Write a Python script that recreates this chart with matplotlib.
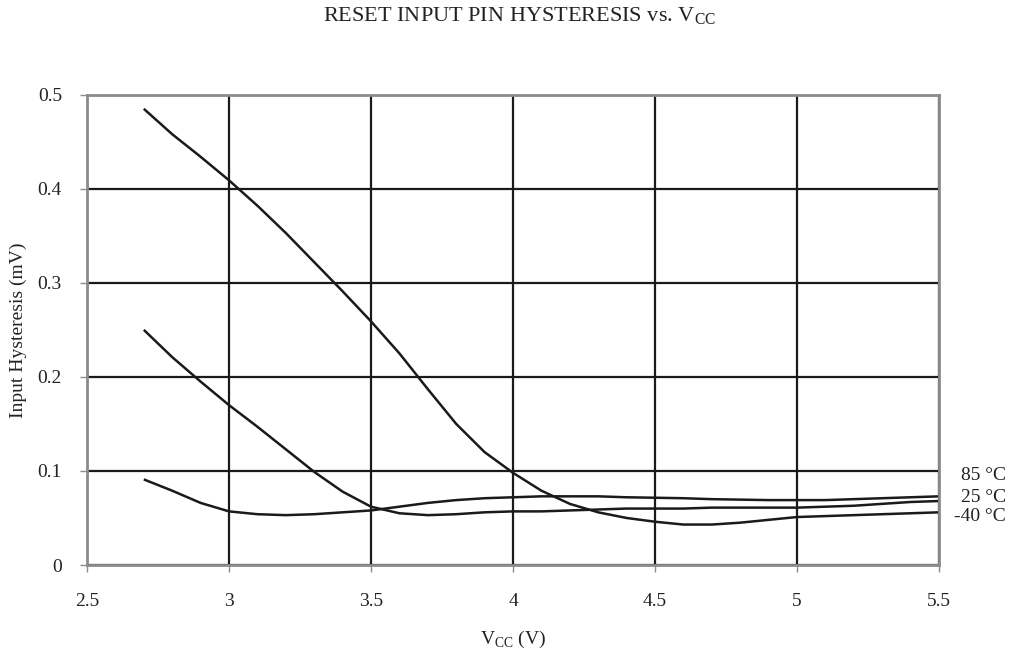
import matplotlib
matplotlib.use("Agg")
import matplotlib.pyplot as plt

plt.rcParams['font.family'] = ['Liberation Serif', 'DejaVu Serif']
plt.rcParams['mathtext.fontset'] = 'custom'
plt.rcParams['mathtext.rm'] = 'Liberation Serif'

vcc = [2.7, 2.8, 2.9, 3.0, 3.1, 3.2, 3.3, 3.4, 3.5, 3.6, 3.7, 3.8, 3.9, 4.0,
       4.1, 4.2, 4.3, 4.4, 4.5, 4.6, 4.7, 4.8, 4.9, 5.0, 5.1, 5.2, 5.3, 5.4, 5.5]

hyst_85 = [0.091, 0.079, 0.066, 0.057, 0.054, 0.053, 0.054, 0.056, 0.058, 0.062,
           0.066, 0.069, 0.071, 0.072, 0.073, 0.073, 0.073, 0.072, 0.0715, 0.071,
           0.070, 0.0695, 0.069, 0.069, 0.069, 0.070, 0.071, 0.072, 0.073]
hyst_25 = [0.250, 0.221, 0.195, 0.170, 0.147, 0.123, 0.099, 0.078, 0.062, 0.055,
           0.053, 0.054, 0.056, 0.057, 0.057, 0.058, 0.059, 0.060, 0.060, 0.060,
           0.061, 0.061, 0.061, 0.061, 0.062, 0.063, 0.065, 0.067, 0.068]
hyst_m40 = [0.485, 0.458, 0.434, 0.409, 0.382, 0.353, 0.322, 0.291, 0.259, 0.225,
            0.187, 0.150, 0.120, 0.098, 0.079, 0.065, 0.056, 0.050, 0.046, 0.043,
            0.043, 0.045, 0.048, 0.051, 0.052, 0.053, 0.054, 0.055, 0.056]

series = [("85 °C", hyst_85, 0.095), ("25 °C", hyst_25, 0.072), ("-40 °C", hyst_m40, 0.052)]

xticks = [2.5, 3.0, 3.5, 4.0, 4.5, 5.0, 5.5]
xticklabels = ["2.5", "3", "3.5", "4", "4.5", "5", "5.5"]
yticks = [0, 0.1, 0.2, 0.3, 0.4, 0.5]
yticklabels = ["0", "0.1", "0.2", "0.3", "0.4", "0.5"]

fig = plt.figure(figsize=(10.14, 6.55), dpi=100)
ax = fig.add_axes([87/1014, 1-565/655, (939-87)/1014, (565-94.7)/655])

ax.set_xlim(2.5, 5.5)
ax.set_ylim(0, 0.5)
ax.set_xticks(xticks)
ax.set_xticklabels(xticklabels)
ax.set_yticks(yticks)
ax.set_yticklabels(yticklabels)
ax.grid(True, color='#1a1a1a', linewidth=1.6)
ax.set_axisbelow(True)

for s in ax.spines.values():
    s.set_color('#8c8c8c')
    s.set_linewidth(2)
ax.tick_params(direction='out', length=5, width=1, color='#8c8c8c',
               labelsize=14, labelcolor='#222222')
ax.tick_params(axis='x', pad=15)
ax.tick_params(axis='y', pad=13)

for name, vals, ly in series:
    ax.plot(vcc, vals, color='#1a1a1a', linewidth=1.8, solid_capstyle='butt', clip_on=False)
    ax.annotate(name, xy=(1.0, ly), xycoords=('axes fraction', 'data'),
                xytext=(1006, 0), textcoords=('figure pixels', 'offset points'),
                ha='right', va='center', fontsize=14, color='#222222')

ax.set_xlabel(r"V$_{\mathrm{CC}}$ (V)", fontsize=14, color='#222222', labelpad=14)
ax.set_ylabel("Input Hysteresis (mV)", fontsize=14, color='#222222', labelpad=8)
fig.text(0.512, 1-16/655, r"RESET INPUT PIN HYSTERESIS vs. V$_{\mathrm{CC}}$",
         ha='center', va='center', fontsize=16, color='#222222')

fig.savefig("out.png", dpi=100)
